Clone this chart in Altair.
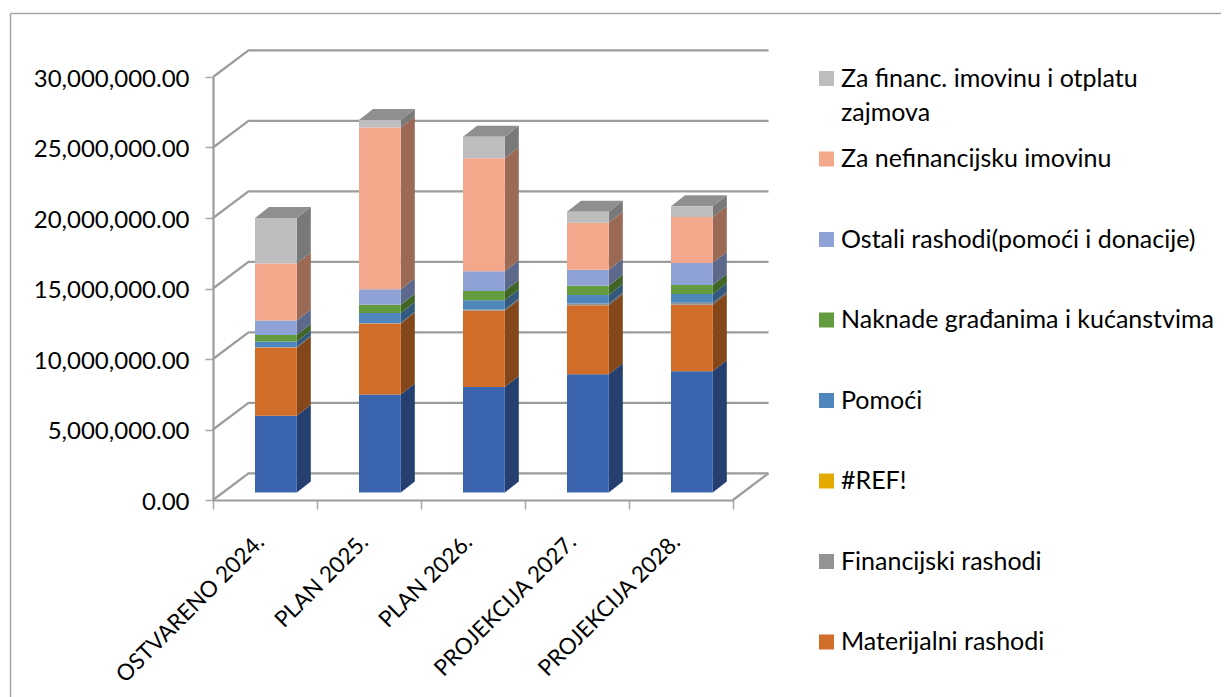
import altair as alt
import pandas as pd

categories = ["OSTVARENO 2024.", "PLAN 2025.", "PLAN 2026.", "PROJEKCIJA 2027.", "PROJEKCIJA 2028."]
series_bottom_up = ["Za zaposlene", "Materijalni rashodi", "Financijski rashodi", "#REF!", "Pomoći",
                    "Naknade građanima i kućanstvima", "Ostali rashodi(pomoći i donacije)",
                    "Za nefinancijsku imovinu", "Za financ. imovinu i otplatu zajmova"]
zaposleni = [5.45e6, 6.96e6, 7.49e6, 8.39e6, 8.60e6]
materijalni = [4.84e6, 5.03e6, 5.40e6, 4.89e6, 4.72e6]
financijski = [0.03e6, 0.03e6, 0.09e6, 0.14e6, 0.14e6]
ref_err = [0, 0, 0, 0, 0]
pomoci = [0.40e6, 0.71e6, 0.66e6, 0.59e6, 0.62e6]
naknade = [0.45e6, 0.59e6, 0.66e6, 0.66e6, 0.64e6]
ostali = [1.04e6, 1.11e6, 1.39e6, 1.13e6, 1.56e6]
nefinancijska = [4.04e6, 11.47e6, 8.03e6, 3.33e6, 3.26e6]
financijska = [3.23e6, 0.52e6, 1.51e6, 0.78e6, 0.76e6]
values = [zaposleni, materijalni, financijski, ref_err, pomoci, naknade, ostali, nefinancijska, financijska]
front_colors = ["#3A64AD", "#D16D28", "#939393", "#E3AA00", "#4F87BD", "#639B3F", "#8FA2D5", "#F3A88B", "#BDBDBD"]
side_colors = ["#253F6F", "#84471A", "#5E5E5E", "#916D00", "#33597D", "#416527", "#5C698B", "#9A6A56", "#797979"]
top_color = "#8F8F8F"
legend_order = series_bottom_up[::-1][:-1]
ticks = [0, 5e6, 10e6, 15e6, 20e6, 25e6, 30e6]

FONT = "Lato"
FS = 25
GRID = "#9C9C9C"
W, H = 556, 470
PITCH = 104.0
PX = 30e6 / 423.0          # value units per pixel
xu = lambda px: px / PITCH
WALL_X, WALL_Y = xu(35.5), 26.7 * PX
BASE = 7.4 * PX
LEFT, BW = xu(42), xu(41.8)
DX, DY = xu(14), 11 * PX

xs = alt.Scale(domain=[0, W / PITCH], range=[0, W], nice=False, zero=False)
ys = alt.Scale(domain=[0, 30e6], range=[H, 47], nice=False)
yaxis = alt.Axis(values=ticks, format=",.2f", title=None, grid=False, domainColor=GRID, domainWidth=2.2,
                 tickColor="#A6A6A6", tickWidth=1.5, tickSize=8, labelFont=FONT, labelFontSize=24,
                 labelColor="#000000", labelPadding=16, labelOffset=2)

front, side, top, wall = [], [], [], []
for c in range(len(categories)):
    base = BASE
    for s, name in enumerate(series_bottom_up):
        v = values[s][c]
        x0, x1 = c + LEFT, c + LEFT + BW
        front.append(dict(x0=x0, x1=x1, y0=base, y1=base + v, series=name))
        sid = f"{c}-{s}"
        side.append(dict(id=sid, x=x1, y0=base, y1=base + v, col=side_colors[s]))
        side.append(dict(id=sid, x=x1 + DX, y0=base + DY, y1=base + v + DY, col=side_colors[s]))
        base += v
    top.append(dict(id=c, y=base, x0=c + LEFT, x1=c + LEFT + BW))
    top.append(dict(id=c, y=base + DY, x0=c + LEFT + DX, x1=c + LEFT + BW + DX))

n = len(categories)
for t in ticks:
    wall.append(dict(id=t, o=0, x=0, y=t))
    wall.append(dict(id=t, o=1, x=WALL_X, y=t + WALL_Y))
    wall.append(dict(id=t, o=2, x=n + WALL_X, y=t + WALL_Y))
wall.append(dict(id=-1, o=0, x=n, y=0))
wall.append(dict(id=-1, o=1, x=n + WALL_X, y=WALL_Y))

walls = alt.Chart(pd.DataFrame(wall)).mark_line(color=GRID, strokeWidth=2.2).encode(
    x=alt.X("x:Q", scale=xs, axis=None),
    y=alt.Y("y:Q", scale=ys, axis=yaxis),
    detail="id:N", order="o:Q")

band = alt.Chart(pd.DataFrame({"cat": categories})).mark_bar(opacity=0).encode(
    x=alt.X("cat:N", sort=categories, title=None,
            scale=alt.Scale(domain=categories, range=[0, PITCH * n], paddingInner=0, paddingOuter=0),
            axis=alt.Axis(orient="bottom", tickBand="extent", labelAngle=-45, labelAlign="right",
                          labelBaseline="middle", labelFont=FONT, labelFontSize=22.5, labelColor="#000000",
                          domainColor=GRID, domainWidth=2.2, tickColor="#A6A6A6", tickWidth=1.5,
                          tickSize=9, labelPadding=29, labelOffset=-5, labelLimit=400)),
    y=alt.value(0), y2=alt.value(1))

sides = alt.Chart(pd.DataFrame(side)).mark_area().encode(
    x=alt.X("x:Q", scale=xs, axis=None),
    y=alt.Y("y0:Q", scale=ys, axis=yaxis, stack=None), y2="y1:Q",
    color=alt.Color("col:N", scale=None, legend=None),
    detail="id:N")

tops = alt.Chart(pd.DataFrame(top)).mark_area(color=top_color).encode(
    y=alt.Y("y:Q", scale=ys, axis=yaxis),
    x=alt.X("x0:Q", scale=xs, axis=None, stack=None), x2="x1:Q",
    detail="id:N")

fronts = alt.Chart(pd.DataFrame(front)).mark_rect().encode(
    x=alt.X("x0:Q", scale=xs, axis=None), x2="x1:Q",
    y=alt.Y("y0:Q", scale=ys, axis=yaxis), y2="y1:Q",
    color=alt.Color("series:N",
                    scale=alt.Scale(domain=series_bottom_up, range=front_colors),
                    legend=alt.Legend(
                        values=legend_order, orient="none", legendX=601, legendY=36, title=None,
                        symbolType="square", symbolSize=225, symbolStrokeWidth=0, symbolOpacity=1,
                        labelFont=FONT, labelFontSize=FS, labelColor="#000000", labelOffset=2,
                        labelLimit=420, rowPadding=54.5, padding=0,
                        labelExpr="replace(datum.label, ' zajmova', '')")))

continuation = alt.Chart(pd.DataFrame({"t": ["zajmova"]})).mark_text(
    font=FONT, fontSize=FS, color="#000000", align="left", baseline="middle").encode(
    text="t:N", x=alt.value(628), y=alt.value(82.5))

frame_l = alt.Chart(pd.DataFrame({"a": [0]})).mark_rule(color="#A6A6A6", strokeWidth=1.5).encode(
    x=alt.value(-202.5), y=alt.value(-16.5), y2=alt.value(H + 197))
frame_t = alt.Chart(pd.DataFrame({"a": [0]})).mark_rule(color="#A6A6A6", strokeWidth=1.5).encode(
    y=alt.value(-16.5), x=alt.value(-202.5), x2=alt.value(W + 452))

chart = alt.layer(frame_l, frame_t, walls, band, sides, tops, fronts, continuation).resolve_scale(
    x="independent", color="independent"
).properties(
    width=W, height=H,
    autosize=alt.AutoSizeParams(type="none"),
    padding={"left": 205, "top": 22, "right": 452, "bottom": 197},
    background="white",
).configure_view(stroke=None)

chart.save("out.html", embed_options={"renderer": "svg", "actions": False})
